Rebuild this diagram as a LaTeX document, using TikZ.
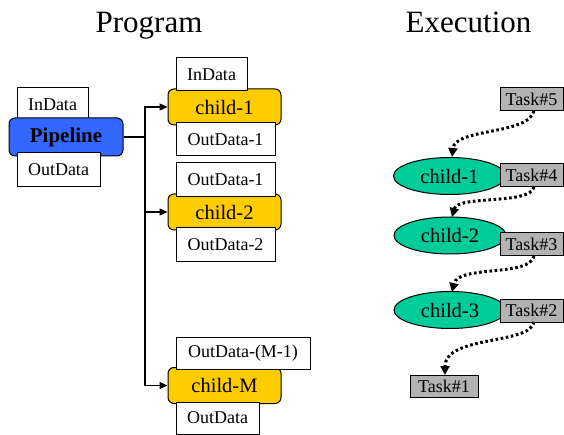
\documentclass[tikz,border=0pt]{standalone}
\usepackage{fontspec}
\setmainfont{Liberation Serif}
\usetikzlibrary{arrows.meta,shapes.geometric}
\definecolor{pipeblue}{HTML}{3366FF}
\definecolor{childyellow}{HTML}{FFCC00}
\definecolor{execgreen}{HTML}{00CC99}
\definecolor{taskgray}{HTML}{B3B3B3}
\tikzset{
  title/.style={font=\fontsize{31}{33}\selectfont, anchor=base, inner sep=0pt},
  databox/.style={draw=black, fill=white, line width=1pt, inner sep=0pt,
    font=\fontsize{18}{20}\selectfont},
  pipebox/.style={draw=black, fill=pipeblue, line width=1pt, rounded corners=6pt,
    inner sep=0pt, minimum width=114pt, minimum height=38pt,
    font=\fontsize{21}{23}\selectfont\bfseries},
  childbox/.style={draw=black, fill=childyellow, line width=1pt, rounded corners=6pt,
    inner sep=0pt, minimum width=113pt, minimum height=36pt,
    font=\fontsize{20.5}{22}\selectfont},
  execell/.style={draw=black, fill=execgreen, line width=1pt, ellipse,
    inner sep=0pt, minimum width=112pt, minimum height=37pt,
    font=\fontsize{20.5}{22}\selectfont},
  taskbox/.style={draw=black, fill=taskgray, line width=1pt, inner sep=0pt,
    minimum width=63pt, minimum height=23pt, font=\fontsize{18}{20}\selectfont},
  bus/.style={line width=1.3pt, draw=black},
  busarrow/.style={bus, -{Triangle[length=8pt,width=7pt]}},
  dotarrow/.style={line width=3pt, dash pattern=on 2.6pt off 2.6pt, line cap=butt,
    -{Triangle[length=9pt,width=9pt]}},
}
\begin{document}
\begin{tikzpicture}[x=1pt,y=-1pt]
\useasboundingbox (0,0) rectangle (564,435);
% titles
\node[title] (tprog) at (149,33) {Program};
\node[title] (texec) at (468.5,33) {Execution};

% pipeline
\node[databox, minimum width=71pt, minimum height=33pt] (pin) at (52.5,104.5) {InData};
\node[pipebox] (pipe) at (66,137) {Pipeline};
\node[databox, minimum width=83pt, minimum height=34pt] (pout) at (58.5,170) {OutData};

% children
\node[childbox] (c1) at (224.5,107) {child-1};
\node[databox, minimum width=71pt, minimum height=33pt] (c1in) at (211.5,74.5) {InData};
\node[databox, minimum width=99pt, minimum height=33pt] (c1out) at (225.5,139.5) {OutData-1};

\node[childbox] (c2) at (224.5,212) {child-2};
\node[databox, minimum width=99pt, minimum height=34pt] (c2in) at (225.5,180) {OutData-1};
\node[databox, minimum width=99pt, minimum height=34pt] (c2out) at (225.5,245) {OutData-2};

\node[childbox] (cm) at (224.5,385.5) {child-M};
\node[databox, minimum width=134pt, minimum height=32pt] (cmin) at (243,353) {OutData-(M-1)};
\node[databox, minimum width=83pt, minimum height=32pt] (cmout) at (217.5,418) {OutData};

% bus connectors
\coordinate (busj) at (145,137);
\draw[bus] (pipe.east) -- (busj);
\draw[busarrow] (busj) |- (c1.west);
\draw[busarrow] (busj) |- (c2.west);
\draw[busarrow] (busj) |- (cm.west);

% execution
\node[execell] (e1) at (449.5,176) {child-1};
\node[execell] (e2) at (450,235.5) {child-2};
\node[execell] (e3) at (450,310) {child-3};

\node[taskbox] (t5) at (531.5,99.5) {Task\#5};
\node[taskbox] (t4) at (531.5,175.5) {Task\#4};
\node[taskbox] (t3) at (531.5,244.5) {Task\#3};
\node[taskbox] (t2) at (531.5,310.5) {Task\#2};
\node[taskbox, minimum width=68pt, minimum height=22pt] (t1) at (444,386) {Task\#1};

\coordinate (t5s) at (534,111);
\coordinate (t4s) at (534,187);
\coordinate (t3s) at (534,256);
\coordinate (t2s) at (534,322);
\coordinate (e1n) at (452,157);
\coordinate (e2n) at (452,217);
\coordinate (e3n) at (452,292);
\coordinate (t1n) at (445,375);

\draw[dotarrow] (t5s) .. controls (528,135) and (455,128) .. (e1n);
\draw[dotarrow] (t4s) .. controls (530,205) and (458,195) .. (e2n);
\draw[dotarrow] (t3s) .. controls (530,277) and (458,265) .. (e3n);
\draw[dotarrow] (t2s) .. controls (530,345) and (445,335) .. (t1n);
\end{tikzpicture}
\end{document}
